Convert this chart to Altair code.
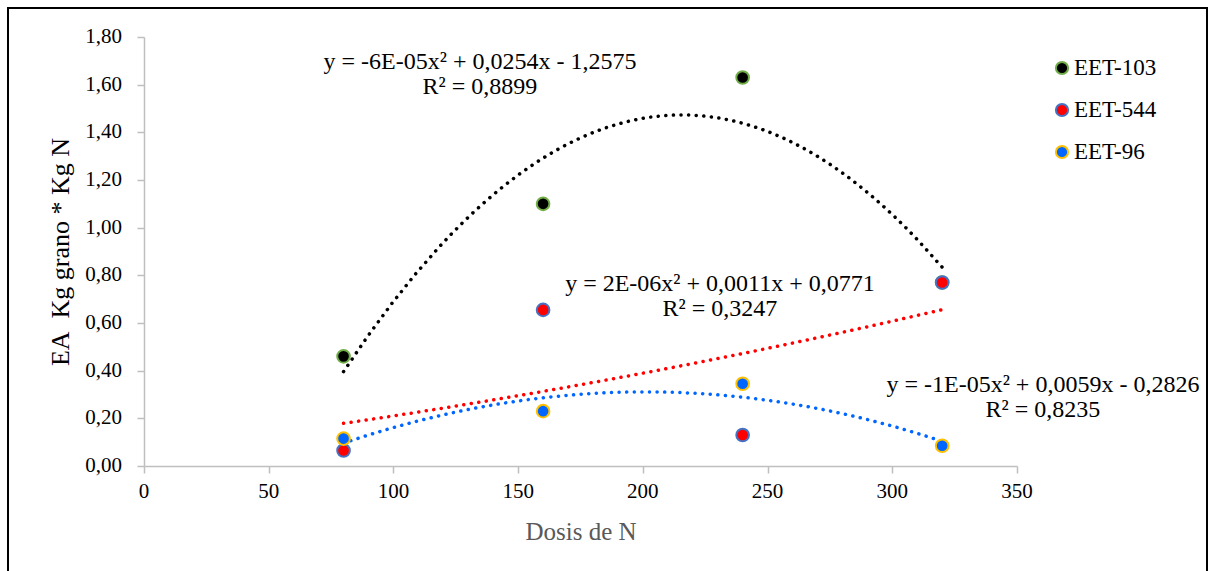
import altair as alt
import pandas as pd

# ---- data ----
doses = [80, 160, 240, 320]
series_names = ["EET-103", "EET-544", "EET-96"]
eet_103 = [0.46, 1.10, 1.63, 0.77]
eet_544 = [0.065, 0.655, 0.13, 0.77]
eet_96 = [0.115, 0.23, 0.345, 0.085]

point_fill = ["#000000", "#FF0000", "#0066FF"]
point_stroke = ["#70AD47", "#4472C4", "#FFC000"]
trend_color = ["#000000", "#FF0000", "#0066FF"]

eq_text = [
    "y = -6E-05x² + 0,0254x - 1,2575\nR² = 0,8899",
    "y = 2E-06x² + 0,0011x + 0,0771\nR² = 0,3247",
    "y = -1E-05x² + 0,0059x - 0,2826\nR² = 0,8235",
]
eq_x = [134.7, 230.9, 360.4]
eq_y = [1.745, 0.815, 0.391]

y_ticks = [0.0, 0.2, 0.4, 0.6, 0.8, 1.0, 1.2, 1.4, 1.6, 1.8]
y_tick_labels = ["0,00", "0,20", "0,40", "0,60", "0,80", "1,00", "1,20", "1,40", "1,60", "1,80"]
x_ticks = [0, 50, 100, 150, 200, 250, 300, 350]
x_tick_labels = ["0", "50", "100", "150", "200", "250", "300", "350"]

FONT = "Liberation Serif"

rows = []
for name, vals in zip(series_names, [eet_103, eet_544, eet_96]):
    for d, v in zip(doses, vals):
        rows.append({"series": name, "dosis": d, "ea": v})
df = pd.DataFrame(rows)
eq_df = pd.DataFrame({"label": eq_text, "x": eq_x, "y": eq_y})
legend_df = pd.DataFrame({"series": series_names})
ylab_df = pd.DataFrame({"v": y_ticks, "t": y_tick_labels})
xlab_df = pd.DataFrame({"v": x_ticks, "t": x_tick_labels})

x_scale = alt.Scale(domain=[0, 350], nice=False)
y_scale = alt.Scale(domain=[0, 1.8], nice=False)

x_axis = alt.Axis(values=x_ticks, labels=False, title="Dosis de N", titleColor="#595959",
                  titleFont=FONT, titleFontWeight="normal",
                  titleFontSize=25, titleY=65, titleBaseline="middle")
y_axis = alt.Axis(values=y_ticks, labels=False, title="EA\u00a0 Kg grano * Kg N",
                  titleFont=FONT, titleFontWeight="normal",
                  titleColor="#000000", titleFontSize=26, titleX=-84,
                  titleBaseline="middle")

x_enc = alt.X("dosis:Q", scale=x_scale, axis=x_axis)
y_enc = alt.Y("ea:Q", scale=y_scale, axis=y_axis)

fill_scale = alt.Scale(domain=series_names, range=point_fill)
stroke_scale = alt.Scale(domain=series_names, range=point_stroke)

base = alt.Chart(df)

trend = base.transform_regression(
    "dosis", "ea", method="poly", order=2, groupby=["series"], extent=[80, 320]
).transform_calculate(trend="datum.series").mark_line(
    strokeWidth=3.5, strokeDash=[0.1, 7.5], strokeCap="round"
).encode(
    x=x_enc,
    y=y_enc,
    color=alt.Color("trend:N", scale=alt.Scale(domain=series_names, range=trend_color), legend=None),
)

points = base.mark_circle(size=160, strokeWidth=2, opacity=1).encode(
    x=x_enc,
    y=y_enc,
    fill=alt.Fill("series:N", scale=fill_scale, legend=None),
    stroke=alt.Stroke("series:N", scale=stroke_scale, legend=None),
)

eqs = alt.Chart(eq_df).mark_text(
    font=FONT, fontSize=24, align="center", baseline="top", lineBreak="\n",
    lineHeight=25, color="#000000",
).encode(
    x=alt.X("x:Q", scale=x_scale, axis=x_axis),
    y=alt.Y("y:Q", scale=y_scale, axis=y_axis),
    text="label:N",
)

ylabs = alt.Chart(ylab_df).mark_text(
    font=FONT, fontSize=21, align="right", baseline="middle", color="#000000",
    lineBreak="\n",
).encode(
    x=alt.value(-22),
    y=alt.Y("v:Q", scale=y_scale, axis=y_axis),
    text="t:N",
)

xlabs = alt.Chart(xlab_df).mark_text(
    font=FONT, fontSize=21, align="center", baseline="middle", color="#000000",
    lineBreak="\n",
).encode(
    x=alt.X("v:Q", scale=x_scale, axis=x_axis),
    y=alt.value(455),
    text="t:N",
)

main = alt.layer(trend, points, eqs, ylabs, xlabs)

# legend drawn as its own layer with an independent ordinal y scale
leg_y = alt.Y("series:N", scale=alt.Scale(type="point", domain=series_names, range=[31, 115], padding=0), axis=None)
leg_sym = alt.Chart(legend_df).mark_circle(size=150, strokeWidth=2, opacity=1).encode(
    x=alt.value(918),
    y=leg_y,
    fill=alt.Fill("series:N", scale=fill_scale, legend=None),
    stroke=alt.Stroke("series:N", scale=stroke_scale, legend=None),
)
leg_txt = alt.Chart(legend_df).mark_text(
    font=FONT, fontSize=23, align="left", baseline="middle", color="#000000",
    lineBreak="\n",
).encode(x=alt.value(930), y=leg_y, text="series:N")
leg = alt.layer(leg_sym, leg_txt)

border = alt.Chart(pd.DataFrame({"a": [0]})).mark_rect(
    fill=None, stroke="#000000", strokeWidth=2
).encode(x=alt.value(-136), x2=alt.value(1063), y=alt.value(-29), y2=alt.value(600))

chart = alt.layer(main, leg, border).resolve_scale(y="independent").properties(
    width=873, height=429,
    autosize=alt.AutoSizeParams(type="none"),
    padding={"left": 144, "top": 37, "right": 191, "bottom": 105},
).configure(font=FONT).configure_view(stroke=None).configure_axis(
    grid=False, domainColor="#BFBFBF", tickColor="#BFBFBF", domainWidth=1.5,
    tickWidth=1.5, tickSize=7,
)

chart.save("out.html", embed_options={"renderer": "svg", "actions": False})
